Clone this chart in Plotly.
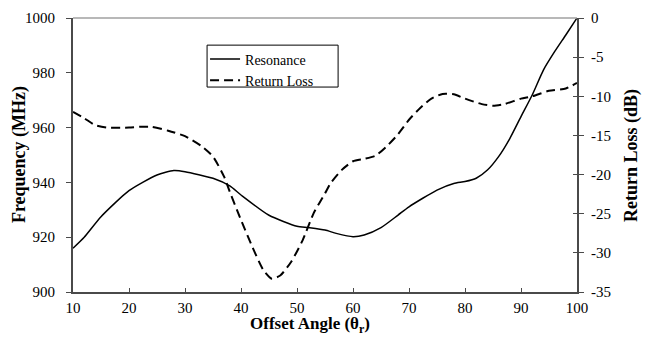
import plotly.graph_objects as go

# Offset angle (degrees) and resonance frequency (MHz)
res_angle = [10, 12, 15, 20, 25, 28, 30, 35, 38, 40, 45, 50, 52, 55, 57, 60, 62, 65, 68,
             70, 75, 78, 80, 82, 84, 86, 88, 90, 92, 94, 96, 98, 100]
res_freq = [916, 920, 927.5, 937, 942.7, 944.3, 943.9, 941.5, 938.7, 935.4, 928, 924, 923.5,
            922.6, 921.4, 920.2, 920.8, 923.5, 928, 931.1, 937.2, 939.6, 940.3, 941.5, 944.5,
            949.4, 956, 964, 971.9, 981, 987.7, 993.8, 1000]

# Offset angle (degrees) and return loss (dB)
rl_angle = [10, 12, 14, 16, 20, 22, 24, 27, 30, 33, 35, 37, 38, 40, 42, 44, 45.5, 47, 49, 51,
            53, 55, 56, 58, 60, 62, 64, 66, 68, 70, 72, 74, 76, 78, 80, 83, 85, 87, 90, 92, 95,
            98, 100]
rl_db = [-12, -12.8, -13.7, -14.0, -14.0, -13.9, -13.9, -14.4, -15.1, -16.4, -17.7, -20.3,
         -22.2, -25.8, -29.2, -32.2, -33.3, -32.9, -31.1, -28.4, -24.9, -22.4, -21.1, -19.4,
         -18.3, -18.0, -17.6, -16.4, -14.9, -13.0, -11.5, -10.3, -9.7, -9.75, -10.3, -11.0,
         -11.2, -11.0, -10.3, -10.0, -9.3, -9.0, -8.3]

x_ticks = [10, 20, 30, 40, 50, 60, 70, 80, 90, 100]
y1_ticks = [900, 920, 940, 960, 980, 1000]
y2_ticks = [-35, -30, -25, -20, -15, -10, -5, 0]
y2_labels = ["-35", "-30", "-25", "-20", "-15", "-10", "-5", "0"]

FONT = "Liberation Serif"
AXIS_COLOR = "#4a4a4a"

fig = go.Figure()
fig.add_trace(go.Scatter(
    x=res_angle, y=res_freq, name="Resonance", mode="lines",
    line=dict(color="black", width=1.5, shape="spline", smoothing=0.6),
))
fig.add_trace(go.Scatter(
    x=rl_angle, y=rl_db, name="Return Loss", mode="lines", yaxis="y2",
    line=dict(color="black", width=2, dash="9px,5px", shape="spline", smoothing=0.6),
))
# carrier for the inner halves of the right-axis ticks (not drawn)
fig.add_trace(go.Scatter(
    x=[rl_angle[0]], y=[rl_db[0]], yaxis="y3", mode="lines",
    showlegend=False, hoverinfo="skip", line=dict(width=0),
))

fig.update_layout(
    width=647, height=338,
    margin=dict(l=73, r=70, t=18, b=46),
    paper_bgcolor="white", plot_bgcolor="white",
    font=dict(family=FONT, size=15, color="black"),
    showlegend=True,
    legend=dict(
        x=0.262, y=0.907, xanchor="left", yanchor="top",
        bgcolor="rgba(0,0,0,0)", borderwidth=0,
        font=dict(family=FONT, size=14, color="black"),
        tracegroupgap=0, itemwidth=30,
    ),
    xaxis=dict(
        range=[10, 100], tickvals=x_ticks, showgrid=False, zeroline=False,
        showline=True, linecolor=AXIS_COLOR, linewidth=2,
        ticks="inside", ticklen=4, tickcolor=AXIS_COLOR,
        tickfont=dict(family=FONT, size=15), automargin=False,
        ticklabelstandoff=1,
    ),
    yaxis=dict(
        range=[900, 1000], tickvals=y1_ticks, showgrid=False, zeroline=False,
        showline=True, linecolor=AXIS_COLOR, linewidth=2,
        ticks="outside", ticklen=5, tickcolor=AXIS_COLOR,
        tickfont=dict(family=FONT, size=15), automargin=False,
        ticklabelstandoff=8,
    ),
    yaxis2=dict(
        range=[-35, 0], tickvals=y2_ticks, ticktext=y2_labels,
        overlaying="y", side="right",
        showgrid=False, zeroline=False,
        showline=True, linecolor=AXIS_COLOR, linewidth=2,
        ticks="outside", ticklen=5, tickcolor=AXIS_COLOR,
        tickfont=dict(family=FONT, size=15), automargin=False,
        ticklabelstandoff=4,
    ),
    # inner half of the crossing ticks on the right axis
    yaxis3=dict(
        range=[-35, 0], tickvals=y2_ticks, overlaying="y", side="right",
        showgrid=False, zeroline=False, showline=False, showticklabels=False,
        ticks="inside", ticklen=4, tickcolor=AXIS_COLOR, automargin=False,
    ),
)

# axis titles
title_font = dict(family=FONT, size=18, color="black")
fig.add_annotation(text="<b>Frequency (MHz)</b>", xref="paper", yref="paper",
                   x=-0.107, y=0.5, xanchor="center", yanchor="middle",
                   textangle=-90, showarrow=False, font=title_font)
fig.add_annotation(text="<b>Return Loss (dB)</b>", xref="paper", yref="paper",
                   x=1.107, y=0.5, xanchor="center", yanchor="middle",
                   textangle=-90, showarrow=False, font=title_font)
fig.add_annotation(text="<b>Offset Angle (θ<sub>r</sub>)</b>", xref="paper", yref="paper",
                   x=0.47, y=-0.166, xanchor="center", yanchor="bottom",
                   showarrow=False, font=dict(family=FONT, size=17, color="black"),
                   borderpad=0)

# light frame line along the top of the plot area
fig.add_shape(type="line", xref="paper", yref="paper", x0=0, x1=1, y0=1, y1=1,
              line=dict(color="#a0a0a0", width=1.5))

# legend frame
fig.add_shape(type="rect", xref="paper", yref="paper",
              x0=0.266, x1=0.526, y0=0.748, y1=0.901,
              line=dict(color="black", width=1), fillcolor="rgba(0,0,0,0)")

fig.write_html("out.html")
